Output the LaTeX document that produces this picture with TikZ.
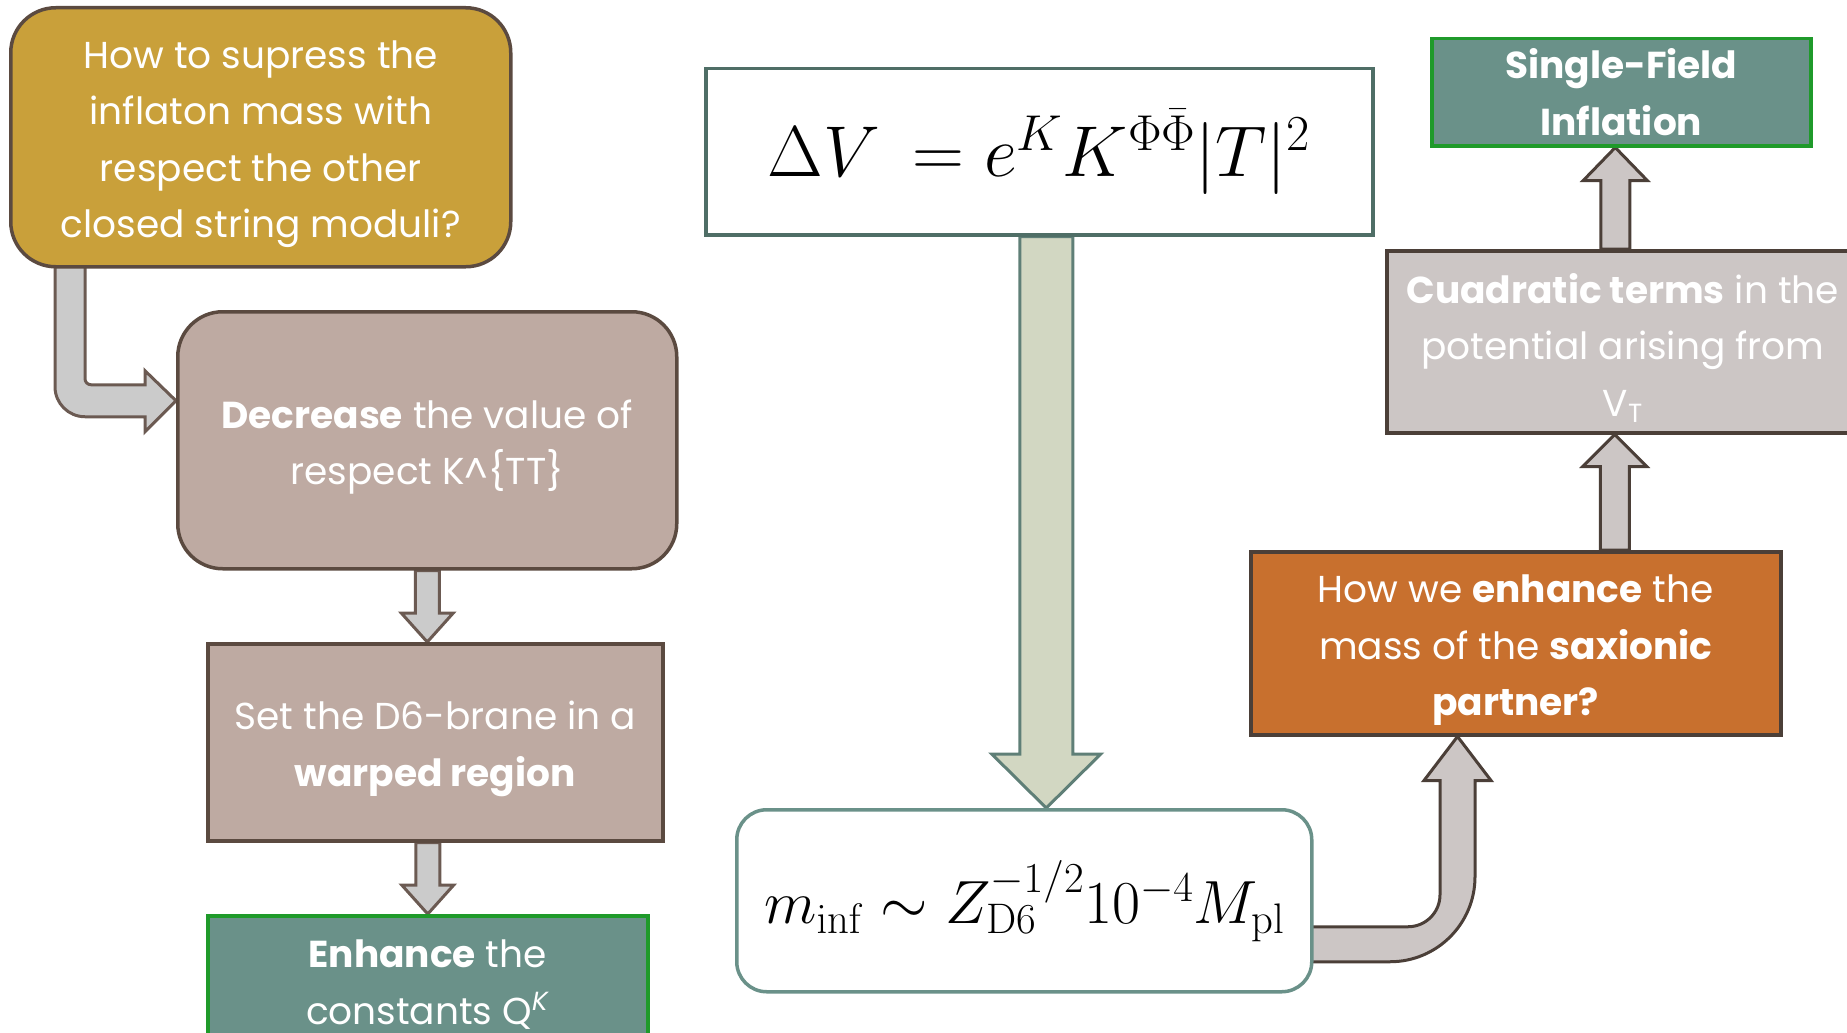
\RequirePackage{fix-cm}
\documentclass[tikz,border=0pt]{standalone}
\usepackage[no-math]{fontspec}
\setmainfont{Poppins}
\usetikzlibrary{calc,backgrounds}
\definecolor{gold}{HTML}{C9A03A}
\definecolor{boxline}{HTML}{5B4A40}
\definecolor{tan}{HTML}{BEAAA2}
\definecolor{tealf}{HTML}{6A9189}
\definecolor{greenl}{HTML}{1F9A2A}
\definecolor{eline}{HTML}{4F6E66}
\definecolor{bigfill}{HTML}{D2D7C2}
\definecolor{bigline}{HTML}{5F7F77}
\definecolor{orangef}{HTML}{C8702E}
\definecolor{hfill}{HTML}{CCC6C5}
\definecolor{hline}{HTML}{4B3F38}
\definecolor{lafill}{HTML}{CBCBCB}
\definecolor{laline}{HTML}{6B5A52}
\newcommand\tp{\rule{0pt}{42pt}}
\newcommand\vblock[6]{\draw[#6] let \p1=(#1), \p2=(#2) in
  (\x2-#3,\y1) -- (\x2-#3,\y2+#5) -- (\x2-#4,\y2+#5) -- (\x2,\y2) --
  (\x2+#4,\y2+#5) -- (\x2+#3,\y2+#5) -- (\x2+#3,\y1) -- cycle;}
\begin{document}
\begin{tikzpicture}[x=1pt,y=1pt,
  txt/.style={text=white,align=center,font=\fontsize{37.5}{56.5}\selectfont},
  box/.style={draw,line width=3.5pt,anchor=north west,inner sep=0pt,txt},
  goldbox/.style={box,fill=gold,draw=boxline,rounded corners=45pt},
  tanround/.style={box,fill=tan,draw=boxline,rounded corners=45pt},
  tanbox/.style={box,fill=tan,draw=boxline},
  tealbox/.style={box,fill=tealf,draw=greenl},
  orangebox/.style={box,fill=orangef,draw=hline},
  greybox/.style={box,fill=hfill,draw=hline},
  eqbox/.style={box,fill=white,draw=eline,text=black},
  eqround/.style={box,fill=white,draw=tealf,text=black,rounded corners=30pt},
  leftarrow/.style={fill=lafill,draw=laline,line width=3pt,line join=miter},
  rightarrow/.style={fill=hfill,draw=hline,line width=3pt,line join=miter},
  bigarrow/.style={fill=bigfill,draw=bigline,line width=3pt,line join=miter}]
\useasboundingbox (0,0) rectangle (1847,-1033);

\node[goldbox,minimum width=500pt,minimum height=259pt] (A) at (9,-6)
  {\tp How to supress the\\inflaton mass with\\respect the other\\closed string moduli?};
\node[tanround,minimum width=499pt,minimum height=257pt] (B) at (176,-310)
  {\tp\textbf{Decrease} the value of\\respect K\textasciicircum\{TT\}};
\node[tanbox,minimum width=455pt,minimum height=197pt] (C) at (206,-642)
  {\tp Set the D6-brane in a\\\textbf{warped region}};
\node[tealbox,minimum width=440pt,minimum height=138pt] (D) at (206,-914)
  {\textbf{Enhance} the\\constants Q\textsuperscript{\textit{K}}};
\node[eqbox,minimum width=667pt,minimum height=166pt] (E) at (704,-67)
  {\fontsize{72}{80}\selectfont$\Delta V\, = e^{K}K^{\Phi\bar\Phi}|T|^2$};
\node[eqround,minimum width=575pt,minimum height=182pt] (F) at (735,-808)
  {\fontsize{61}{70}\selectfont$m_{\mathrm{inf}}\sim Z_{\mathrm{D6}}^{-1/2}10^{-4}M_{\mathrm{pl}}$};
\node[orangebox,minimum width=530pt,minimum height=183pt] (G) at (1249,-550)
  {\tp How we \textbf{enhance} the\\mass of the \textbf{saxionic}\\\textbf{partner?}};
\node[greybox,minimum width=472pt,minimum height=182pt] (H) at (1385,-249)
  {\tp\textbf{Cuadratic terms} in the\\potential arising from\\V\textsubscript{T}};
\node[tealbox,minimum width=379pt,minimum height=107pt] (I) at (1430,-37)
  {\textbf{Single-Field}\\\textbf{Inflation}};

\begin{scope}[on background layer]
  % A -> B bent arrow
  \draw[leftarrow] let \p1=(A.south west), \p2=(B.west) in
    (\x1+76,\y1+5) -- (\x1+76,\y2+61.5)
    arc[start angle=180,end angle=270,radius=6pt] -- (\x2-31,\y2+55.5)
    -- (\x2-31,\y2+69.5) -- (\x2,\y2+39.5) -- (\x2-31,\y2+8.5)
    -- (\x2-31,\y2+23.5) -- (\x1+76,\y2+23.5)
    arc[start angle=270,end angle=180,radius=30pt] -- (\x1+46,\y1+5) -- cycle;
  % B -> C, C -> D
  \vblock{B.south}{B.south |- C.north}{12}{26}{29}{leftarrow}
  \vblock{C.south}{D.north}{12}{26}{29}{leftarrow}
  % E -> F
  \coordinate (Ftip) at ($(E.south |- F.north)+(7,0)$);
  \vblock{E.south}{Ftip}{26.5}{54.5}{54}{bigarrow}
  % F -> G bent arrow
  \draw[rightarrow] let \p1=(F.east), \p2=(G.south west) in
    (\x1-10,\y1-26) -- (\x2+191-32,\y1-26)
    arc[start angle=270,end angle=360,radius=32pt] -- (\x2+191,\y2-44)
    -- (\x2+175,\y2-44) -- (\x2+208.5,\y2) -- (\x2+242,\y2-44)
    -- (\x2+226,\y2-44) -- (\x2+226,\y1-61+85)
    arc[start angle=0,end angle=-90,radius=85pt] -- (\x1-10,\y1-61) -- cycle;
  % G -> H, H -> I
  \vblock{G.north}{$(H.south)+(-8,0)$}{14.5}{32}{-32}{rightarrow}
  \vblock{H.north}{$(I.south)+(-6,0)$}{14.5}{32}{-33}{rightarrow}
\end{scope}
\end{tikzpicture}
\end{document}
